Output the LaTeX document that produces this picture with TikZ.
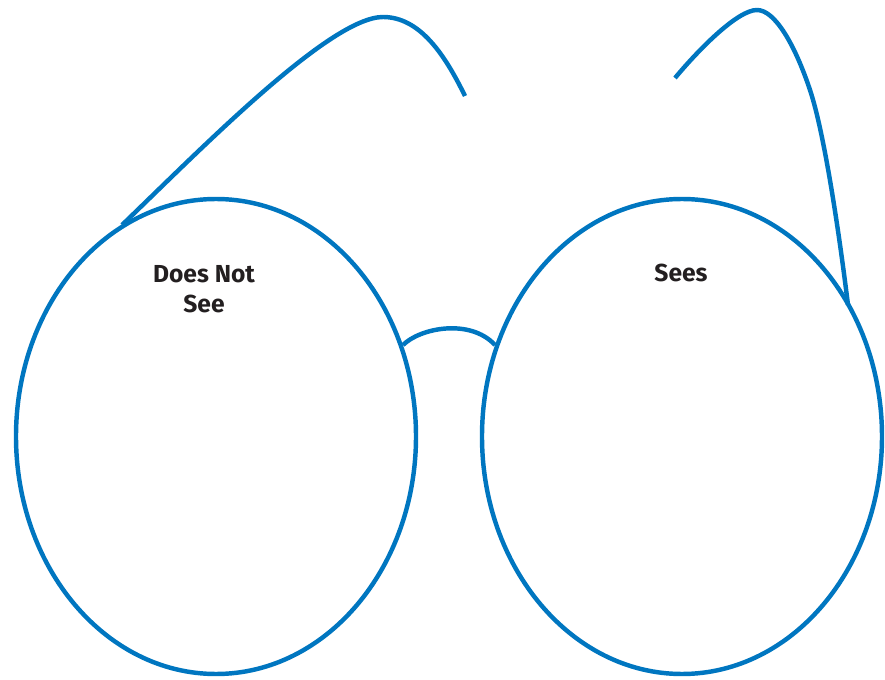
\documentclass[tikz,border=0pt]{standalone}
\usepackage{fontspec}
\setsansfont{Fira Sans}
\usepackage{tikz}
\usetikzlibrary{positioning}

\definecolor{frameblue}{HTML}{0076C0}
\definecolor{labelink}{HTML}{231F20}

\begin{document}
\begin{tikzpicture}[x=0.03cm, y=-0.03cm,
    frame/.style={draw=frameblue, line width=3.8pt},
    lenslabel/.style={text=labelink, font=\sffamily\bfseries\fontsize{21}{26}\selectfont, align=center}]
    \useasboundingbox (0,0) rectangle (885,680);

    % Lenses
    \draw[frame] (216,436.5) ellipse [x radius=200, y radius=237.5];
    \draw[frame] (682,436.5) ellipse [x radius=200, y radius=237.5];

    % Hinge and bridge points
    \coordinate (hingeL) at (122,225);
    \coordinate (tipL) at (465,96);
    \coordinate (hingeR) at (848,305);
    \coordinate (tipR) at (675,78);
    \coordinate (bridgeL) at (403,345);
    \coordinate (bridgeR) at (495,345);

    % Bridge
    \draw[frame] (bridgeL) .. controls (420,328) and (470,318) .. (bridgeR);

    % Left temple
    \draw[frame] (hingeL) .. controls (200,150) and (330,17) .. (383,17)
        .. controls (420,17) and (445,55) .. (tipL);

    % Right temple
    \draw[frame] (tipR) .. controls (700,48) and (738,10) .. (757,10)
        .. controls (775,10) and (795,45) .. (810,90)
        .. controls (825,135) and (840,240) .. (hingeR);

    % Labels
    \node[lenslabel] (notsee) at (204,289) {Does Not\\See};
    \node[lenslabel] (sees) at (681,273) {Sees};
\end{tikzpicture}
\end{document}
